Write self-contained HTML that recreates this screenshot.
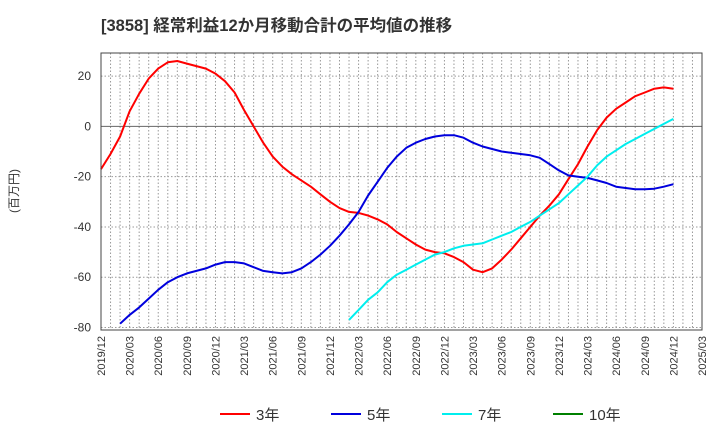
<!DOCTYPE html>
<html><head><meta charset="utf-8"><style>
body{margin:0;background:#fff;font-family:"Liberation Sans","Noto Sans CJK JP",sans-serif}
</style></head><body>
<svg width="720" height="440" viewBox="0 0 720 440" xmlns="http://www.w3.org/2000/svg" id="chart" font-family="Liberation Sans, Noto Sans CJK JP, sans-serif">
<rect width="720" height="440" fill="#fff"/>
<text x="101" y="31" font-size="16.5" font-weight="bold" fill="#333">[3858]  経常利益12か月移動合計の平均値の推移</text>
<text transform="translate(18,191) rotate(-90)" text-anchor="middle" font-size="12" fill="#333">(百万円)</text>
<g id="grid"></g><g id="series"></g><g id="axes"></g><g id="legend"></g>
</svg>
<script>
const xTicks=["2019/12","2020/03","2020/06","2020/09","2020/12","2021/03","2021/06","2021/09","2021/12","2022/03","2022/06","2022/09","2022/12","2023/03","2023/06","2023/09","2023/12","2024/03","2024/06","2024/09","2024/12","2025/03"];
const yTicks=[20,0,-20,-40,-60,-80];
const s3=[-17,-11,-4,6,13,19,23,25.5,26,25,24,23,21,18,13.5,6.5,0,-6.5,-12,-16,-19,-21.5,-24,-27,-30,-32.5,-34,-34.4,-35.5,-37,-39,-42,-44.5,-47,-49,-50,-50.5,-52,-54,-57,-58,-56.5,-53,-49,-44.5,-40,-35.5,-31.5,-27,-21,-15,-8,-1.5,3.5,7,9.5,12,13.5,15,15.5,15];
const s5=[null,null,-78.5,-75,-72,-68.5,-65,-62,-60,-58.5,-57.5,-56.5,-55,-54,-54,-54.5,-56,-57.5,-58,-58.5,-58,-56.5,-54,-51,-47.5,-43.5,-39,-34,-27.5,-22,-16.5,-12,-8.5,-6.5,-5,-4,-3.5,-3.5,-4.5,-6.5,-8,-9,-10,-10.5,-11,-11.5,-12.5,-15,-17.5,-19.5,-20,-20.5,-21.5,-22.5,-24,-24.5,-25,-25,-24.8,-24,-23];
const s7=[];for(let i=0;i<26;i++)s7.push(null);
s7.push(-77,-73,-69,-66,-62,-59,-57,-55,-53,-51,-50,-48.5,-47.5,-47,-46.5,-45,-43.5,-42,-40,-38,-35.5,-33,-30.5,-27,-23.5,-20,-15.5,-12,-9.5,-7,-5,-3,-1,1,3);
const L=101,R=702,T=53,B=330,NM=63,YMIN=-81,YMAX=29.2;
const xs=i=>L+(R-L)*i/NM;
const ys=v=>T+(B-T)*(YMAX-v)/(YMAX-YMIN);
const NS="http://www.w3.org/2000/svg";
function mk(t,a,p){const e=document.createElementNS(NS,t);for(const k in a)e.setAttribute(k,a[k]);p.appendChild(e);return e;}
const grid=document.getElementById('grid'),axes=document.getElementById('axes'),ser=document.getElementById('series'),leg=document.getElementById('legend');
for(let i=1;i<NM;i++){const g=mk('line',{x1:xs(i),x2:xs(i),y1:T,y2:B,stroke:'#999','stroke-dasharray':'1.5,2','stroke-width':1},grid);

}
yTicks.forEach(v=>{const y=ys(v);
const g=mk('line',{x1:L,x2:R,y1:y,y2:y,stroke:v===0?'#666':'#999','stroke-dasharray':v===0?'':'1.5,2','stroke-width':1},grid);


const t=mk('text',{x:L-10,y:y+4,'text-anchor':'end','font-size':12,fill:'#333'},axes);t.textContent=v;

});
xTicks.forEach((s,k)=>{const x=xs(k*3);
const t=mk('text',{transform:`translate(${x+4},336) rotate(-90)`,'text-anchor':'end','font-size':11,fill:'#333'},axes);t.textContent=s;

});
const fr=mk('rect',{x:L,y:T,width:R-L,height:B-T,fill:'none',stroke:'#444','stroke-width':1},axes);


function line(arr,col,name){let d='';arr.forEach((v,i)=>{if(v==null)return;d+=(d?'L':'M')+xs(i).toFixed(1)+','+ys(v).toFixed(1);});
const p=mk('path',{d:d,fill:'none',stroke:col,'stroke-width':2,'stroke-linejoin':'round'},ser);

}
line(s3,'#ff0000','line-3yr');line(s5,'#0000dd','line-5yr');line(s7,'#00eeee','line-7yr');
[["3年","#ff0000",220],["5年","#0000dd",331],["7年","#00eeee",442],["10年","#008000",553]].forEach(([n,c,x])=>{
const g=mk('g',{},leg);


mk('line',{x1:x,x2:x+30,y1:414,y2:414,stroke:c,'stroke-width':2},g);
const t=mk('text',{x:x+36,y:420,'font-size':15,fill:'#333'},g);t.textContent=n;});
</script>
</body></html>
